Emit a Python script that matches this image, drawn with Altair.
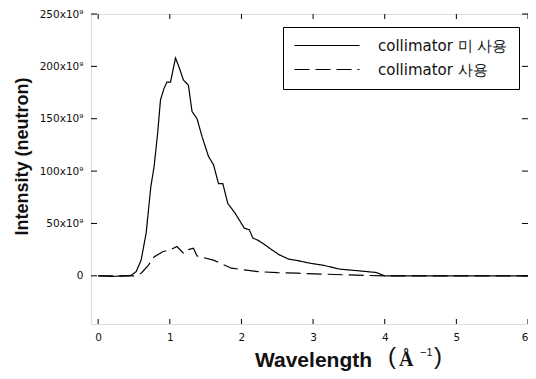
import altair as alt
import pandas as pd

# ---- data (intensity in units of 10^9 neutrons) ----
SERIES = ["collimator 미 사용", "collimator 사용"]

X_SOLID = [0.0, 0.1, 0.2, 0.3, 0.4, 0.46, 0.53, 0.60, 0.67, 0.735, 0.78, 0.83, 0.87,
           0.92, 0.96, 1.01, 1.04, 1.08, 1.125, 1.19, 1.26, 1.31, 1.38, 1.45, 1.54,
           1.61, 1.68, 1.74, 1.81, 1.91, 2.0, 2.04, 2.11, 2.16, 2.23, 2.32, 2.41,
           2.53, 2.66, 2.78, 2.96, 3.15, 3.37, 3.6, 3.88, 4.0, 4.5, 5.0, 5.5, 6.0]
Y_SOLID = [0.0, -0.3, -0.5, -0.3, 0.0, 0.5, 4, 15, 41, 85, 104, 136, 168,
           179, 185, 185, 195, 208, 200, 187, 182, 157, 150, 133, 114,
           106, 88, 88, 69, 60, 50, 45.5, 44, 36, 34, 30, 25.5,
           20, 16, 14.6, 12, 10, 6.4, 5, 3.2, 0, 0, 0, 0, 0]

X_DASH = [0.0, 0.5, 0.6, 0.7, 0.78, 0.9, 1.01, 1.10, 1.19, 1.26, 1.33, 1.38, 1.49,
          1.61, 1.72, 1.86, 2.04, 2.23, 2.5, 2.78, 3.2, 3.6, 4.0, 5.0, 6.0]
Y_DASH = [0.0, 0.0, 2.5, 10, 18, 23, 25, 28, 21.6, 25, 26.4, 19, 17,
          15, 11.5, 7.3, 5.7, 4, 3, 2.5, 1.5, 0.6, 0, 0, 0]

X_TICKS = [0, 1, 2, 3, 4, 5, 6]
Y_TICKS = [0, 50, 100, 150, 200, 250]
X_DOMAIN = [-0.1, 6.0]
Y_DOMAIN = [-46, 250]

W, H = 437, 310

df = pd.concat([
    pd.DataFrame({"x": X_SOLID, "y": Y_SOLID, "series": SERIES[0]}),
    pd.DataFrame({"x": X_DASH, "y": Y_DASH, "series": SERIES[1]}),
])

xscale = alt.Scale(domain=X_DOMAIN, nice=False, zero=False)
yscale = alt.Scale(domain=Y_DOMAIN, nice=False, zero=False)

lines = alt.Chart(df).mark_line(color="black", strokeWidth=1.2).encode(
    x=alt.X("x:Q", scale=xscale,
            axis=alt.Axis(values=X_TICKS, format="d", title="Wavelength",
                          ticks=False, tickSize=0, domain=False, grid=False,
                          labelFont="DejaVu Sans", labelFontSize=10.5, labelColor="#111",
                          labelPadding=8,
                          titleFont="Liberation Sans", titleFontSize=21, titleFontWeight="bold",
                          titleColor="#111", titleX=222, titleY=42,
                          titleBaseline="alphabetic", titleAlign="center")),
    y=alt.Y("y:Q", scale=yscale,
            axis=alt.Axis(values=Y_TICKS, title="Intensity (neutron)",
                          labelExpr="datum.value == 0 ? '0' : datum.value + 'x10⁹'",
                          ticks=False, tickSize=0, domain=False, grid=False,
                          labelFont="DejaVu Sans", labelFontSize=10.5, labelColor="#111",
                          labelPadding=8,
                          titleFont="Liberation Sans", titleFontSize=18, titleFontWeight="bold",
                          titleColor="#111", titleX=-69, titleY=142,
                          titleAlign="center", titleBaseline="middle")),
    strokeDash=alt.StrokeDash("series:N",
                              scale=alt.Scale(domain=SERIES, range=[[1, 0], [15, 6]]),
                              legend=alt.Legend(title=None, orient="none", legendX=192, legendY=13,
                                                padding=11, strokeColor="black",
                                                symbolType="M-6.5,0H6.5", symbolSize=100,
                                                symbolStrokeWidth=1.1, symbolStrokeColor="black",
                                                symbolOffset=25.5, labelOffset=43.5,
                                                labelFont="DejaVu Sans", labelFontSize=15,
                                                labelColor="#111", rowPadding=8,
                                                labelLimit=300)),
    order="x:Q",
)

xt = pd.DataFrame({"t": X_TICKS})
yt = pd.DataFrame({"t": Y_TICKS})
tick_style = dict(color="black", strokeWidth=1)

bottom_ticks = alt.Chart(xt).mark_rule(**tick_style).encode(
    x=alt.X("t:Q", scale=xscale), y=alt.value(H), y2=alt.value(H - 5))
top_ticks = alt.Chart(xt).mark_rule(**tick_style).encode(
    x=alt.X("t:Q", scale=xscale), y=alt.value(0), y2=alt.value(5))
left_ticks = alt.Chart(yt).mark_rule(**tick_style).encode(
    y=alt.Y("t:Q", scale=yscale), x=alt.value(0), x2=alt.value(6))
right_ticks = alt.Chart(yt).mark_rule(**tick_style).encode(
    y=alt.Y("t:Q", scale=yscale), x=alt.value(W), x2=alt.value(W - 6))

# unit annotation "(Å⁻¹)" next to the x-axis title
unit = pd.DataFrame({"lp": ["("], "a": ["Å"], "sup": ["−1"], "rp": [")"]})
base_u = alt.Chart(unit)
lp_txt = base_u.mark_text(align="left", baseline="alphabetic", font="Liberation Sans",
                          fontSize=24, color="#111").encode(
    text="lp:N", x=alt.value(297), y=alt.value(350))
a_txt = base_u.mark_text(align="left", baseline="alphabetic", font="Liberation Serif",
                         fontSize=20, fontWeight="bold", color="#111").encode(
    text="a:N", x=alt.value(308), y=alt.value(352))
sup_txt = base_u.mark_text(align="left", baseline="alphabetic", font="Liberation Sans",
                           fontSize=11, color="#111").encode(
    text="sup:N", x=alt.value(329), y=alt.value(342))
rp_txt = base_u.mark_text(align="left", baseline="alphabetic", font="Liberation Sans",
                          fontSize=24, color="#111").encode(
    text="rp:N", x=alt.value(343), y=alt.value(350))

chart = alt.layer(lines, bottom_ticks, top_ticks, left_ticks, right_ticks,
                  lp_txt, a_txt, sup_txt, rp_txt).properties(
    width=W, height=H,
    autosize=alt.AutoSizeParams(type="none"),
    padding={"left": 83, "top": 6, "right": 0, "bottom": 47},
).configure_view(stroke="black", strokeWidth=1.2).configure(background="white")

chart.save("out.html", embed_options={"renderer": "svg", "actions": False})
